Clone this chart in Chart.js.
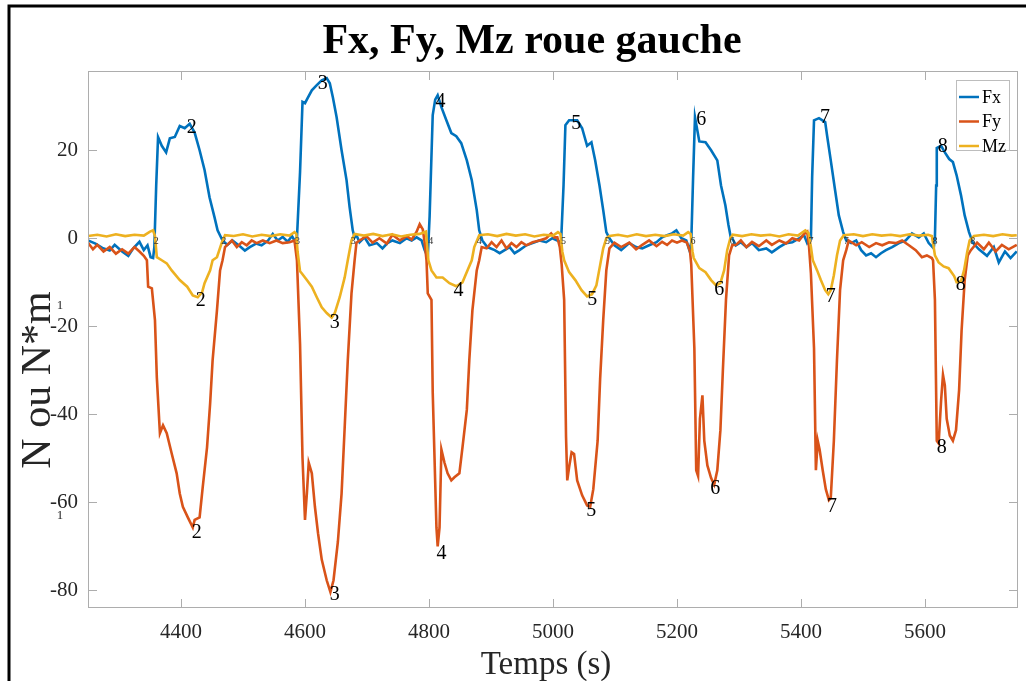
<!DOCTYPE html>
<html>
<head>
<meta charset="utf-8">
<script src="https://cdn.jsdelivr.net/npm/chart.js@4.4.1/dist/chart.umd.min.js"></script>
<style>
  body { margin: 0; background: #fff; }
  canvas { display: block; }
</style>
</head>
<body>
<canvas id="c" width="1026" height="681"></canvas>
<script>
// data (time in s, values in N or N*m)
const fxT = [4250,4262,4273,4285,4293,4305,4315,4323,4333,4340,4346,4351,4355,4357,4360,4363,4369,4376,4382,4390,4398,4406,4414,4422,4430,4438,4446,4454,4459,4467,4475,4483,4495,4503,4511,4521,4530,4540,4548,4556,4564,4572,4579,4583,4587,4592,4596,4600,4604,4611,4619,4627,4635,4640,4645,4651,4659,4667,4672,4677,4680,4683,4688,4696,4704,4716,4725,4733,4741,4753,4764,4772,4780,4788,4793,4798,4801,4806,4810,4814,4820,4828,4836,4844,4852,4861,4869,4877,4881,4885,4886,4894,4906,4914,4922,4930,4938,4946,4957,4967,4978,4989,4999,5007,5013,5017,5020,5026,5039,5047,5055,5062,5068,5075,5081,5086,5091,5099,5110,5123,5134,5144,5155,5167,5176,5184,5192,5199,5207,5215,5220,5223,5226,5229,5236,5246,5255,5265,5271,5278,5283,5287,5289,5295,5303,5312,5321,5332,5344,5353,5365,5376,5386,5397,5405,5410,5416,5418,5421,5429,5439,5442,5448,5455,5461,5468,5473,5481,5489,5497,5505,5513,5521,5529,5537,5547,5558,5569,5579,5590,5598,5606,5614,5616,5618,5619,5626,5632,5639,5645,5651,5658,5664,5671,5677,5687,5700,5711,5719,5729,5738,5748];
const fxV = [-0.5,-1.2,-2.2,-2.8,-1.5,-3.0,-4.0,-2.3,-0.8,-2.7,-1.6,-4.3,-4.5,-2,12,23,21,19.5,22.7,23,25.5,25,26,24,20,15.5,9.3,4.8,1.8,-0.5,-1.5,-0.5,-1.8,-2.8,-2.0,-1.2,-1.6,-0.6,1.0,-0.5,0.3,-0.8,0.5,-0.5,0,15,31,30.7,31.8,33.6,34.8,35.9,36.4,35.2,32,27.5,20,13.2,7,1.8,0.2,0.7,-0.9,0.2,-1.6,-1.1,-2.3,-1.1,-0.5,-1.1,0,-0.5,0.2,-0.5,-2.7,-4.3,5,28,31.5,32.5,29.8,26.8,23.9,23.2,21.6,17.7,13.2,6.4,1.8,0,-0.5,-2,-2.7,-3.4,-2.7,-2,-3.4,-2.7,-1.6,-1.1,-0.5,-0.9,0,-0.5,-1,12,25.7,26.8,26.8,25,21,21.8,17.7,12,6.4,1.4,0,-1.6,-2.7,-1.1,-2,-2.3,-1.6,-0.9,0.2,0.7,1.1,1.8,0,-0.5,-2.7,-1,14,27.5,22,21.8,20,17.7,12,7.5,3,0,0,-1.6,-0.9,-2,-1.1,-2.7,-2.3,-3.2,-2,-1.1,-0.9,0,0.7,-1.1,0,14,26.8,27.3,26.4,23.4,17.7,10.9,5.2,1.4,-0.5,-1.1,-0.5,-2.7,-3.9,-3.4,-4.3,-3.4,-2.7,-2,-1.1,-0.5,1.1,0.2,1.1,-1.1,-2.3,0,12,20.5,21,19.5,18,17.3,14.3,9.8,5.2,1.4,-1,-2.5,-4,-2,-5.5,-3,-4.5,-3];

const fyT = [4250,4258,4265,4275,4285,4295,4305,4315,4325,4333,4340,4345,4347,4353,4358,4361,4366,4371,4377,4385,4393,4398,4403,4411,4419,4422,4430,4435,4442,4447,4451,4458,4463,4467,4471,4474,4482,4490,4498,4506,4514,4522,4532,4543,4554,4564,4575,4583,4587,4592,4596,4600,4603,4606,4611,4616,4621,4627,4635,4641,4646,4653,4659,4664,4669,4675,4680,4683,4688,4699,4709,4720,4732,4741,4753,4764,4772,4780,4785,4790,4793,4796,4798,4804,4806,4812,4814,4817,4820,4825,4830,4836,4841,4849,4854,4861,4865,4870,4877,4881,4885,4893,4901,4909,4917,4925,4933,4941,4949,4957,4967,4978,4989,4997,5002,5007,5011,5014,5018,5021,5023,5026,5030,5034,5039,5047,5055,5060,5065,5072,5076,5081,5086,5091,5099,5110,5123,5134,5144,5155,5167,5176,5184,5192,5200,5208,5216,5221,5223,5228,5231,5234,5237,5241,5244,5249,5255,5260,5265,5270,5274,5279,5284,5289,5295,5303,5312,5321,5332,5344,5353,5365,5376,5386,5397,5405,5410,5413,5416,5421,5424,5427,5430,5435,5440,5445,5448,5453,5458,5463,5468,5473,5477,5489,5498,5510,5521,5531,5542,5553,5563,5574,5585,5595,5603,5611,5613,5616,5619,5622,5626,5629,5632,5635,5640,5645,5650,5655,5659,5664,5669,5674,5684,5695,5703,5714,5724,5735,5748];
const fyV = [-1,-2.5,-1.5,-3,-2,-3.5,-2.5,-3.5,-2,-3,-4,-5,-11,-11.4,-18.6,-31.6,-44.3,-42.5,-44.3,-48.9,-53.4,-58,-61,-63.4,-65.7,-64,-63.4,-56.6,-47.5,-37.5,-27.7,-16.4,-7.3,-5,-2,-1.6,-0.5,-2,-0.9,-1.6,-0.5,-1.1,-0.5,-1.1,-0.5,-1.1,-0.9,-0.5,-5,-24,-50,-64,-58,-51,-53.4,-61,-67,-73,-77.7,-80.4,-77.7,-69,-58,-43,-27.7,-12.5,-5,-1,-0.5,0.5,-1,0,-1.2,0.8,-0.5,0.5,-0.3,1.5,3.2,2,-1,-5,-12.5,-14,-35,-65.7,-70,-65.7,-48,-51,-53.4,-55,-54.3,-53.4,-47.5,-39,-27.7,-16.4,-7.3,-5,-2,-2.3,-0.9,-2,-0.5,-2.3,-1.1,-2,-0.9,-1.6,-0.9,-0.5,0,1.1,0.2,0.2,-2,-6,-14,-45,-55,-52,-48.6,-49,-55,-58.4,-60.7,-61,-57,-46,-32,-18.6,-7.3,-2.3,-1,-2,-1,-2.5,-1.5,-0.5,-1.8,-0.8,-1.5,-0.5,-1,-0.5,-1,-3,-6,-25,-52.7,-54,-41,-35.7,-46,-51.6,-54.5,-56,-52.7,-43.6,-30,-14,-3.9,-1.6,-1.5,-0.5,-2,-0.8,-1.8,-0.5,-1.5,-0.5,-1.2,0,-0.5,1,1.5,-2,-8,-25,-52.7,-46,-48,-52.7,-57,-59.5,-59,-46,-27.7,-11.8,-5,-2.7,-0.5,-1.6,-0.9,-2,-1.1,-1.6,-0.9,-1.1,-0.5,-1.6,-2.7,-4.3,-3.9,-4.5,-5,-14,-46,-46.6,-36.8,-31,-33.4,-41,-44.8,-46,-43.6,-34.5,-21,-9.5,-3.9,-2.7,-1,-2.5,-1,-3,-1.5,-2.5,-1.5];

const mzT = [4250,4265,4280,4295,4310,4325,4340,4350,4355,4358,4361,4369,4377,4385,4398,4410,4419,4427,4434,4438,4447,4451,4458,4466,4471,4485,4500,4515,4530,4545,4560,4575,4583,4586,4588,4592,4595,4603,4611,4619,4627,4635,4643,4648,4656,4664,4669,4675,4680,4695,4710,4725,4740,4755,4770,4785,4795,4799,4804,4812,4822,4833,4844,4854,4862,4869,4873,4881,4895,4910,4925,4940,4955,4970,4985,5000,5008,5012,5015,5018,5026,5036,5046,5055,5063,5070,5076,5081,5086,5091,5105,5120,5135,5150,5165,5180,5195,5210,5218,5222,5225,5227,5236,5246,5255,5263,5270,5276,5281,5286,5290,5305,5320,5335,5350,5365,5380,5395,5407,5412,5416,5419,5426,5432,5439,5444,5448,5453,5458,5463,5469,5485,5500,5515,5530,5545,5560,5575,5590,5605,5611,5614,5616,5622,5630,5638,5647,5651,5658,5663,5668,5672,5679,5695,5710,5725,5740,5748];
const mzV = [0.5,0.8,0.4,0.9,0.5,0.8,0.6,1.5,1.8,0.5,-4.3,-5,-5.7,-7.3,-9.5,-11,-13,-13.4,-12.3,-10.2,-7.3,-5,-4.3,-0.9,0.7,0.5,0.9,0.4,0.8,0.5,0.9,0.6,1.4,1.0,-3,-7.5,-8,-9.5,-11,-13.4,-15.7,-17,-18,-17,-13.4,-8.9,-5,-0.5,1,0.6,1.0,0.5,0.9,0.4,0.8,1.0,1.5,-5,-7.3,-8.9,-8.9,-10.2,-10.9,-10,-7.3,-5,-2,0.7,0.9,0.5,1.0,0.6,0.9,0.4,0.8,0.6,1.4,1.0,-3,-5,-7.7,-9.5,-11.8,-13.2,-12.7,-10.7,-6.1,-2.3,0,0.5,0.8,0.4,0.9,0.5,0.8,0.5,0.9,0.6,1.4,1.0,-3,-4.5,-6.8,-7.7,-9.5,-10.7,-10.2,-7.3,-2.7,0,0.8,0.5,0.9,0.6,0.8,0.4,0.9,0.6,1.8,1.2,-2,-5,-7.3,-9.5,-11.8,-12.7,-11.8,-8.4,-3.9,-0.5,0.7,0.9,0.5,0.9,0.6,0.8,0.5,0.9,0.6,0.8,0.5,-2,-3.9,-5.5,-6.4,-6.8,-8.6,-10,-9.8,-7.3,-3.2,-0.5,0.5,0.8,0.5,0.9,0.6,0.7];

const seriesNames = ['Fx', 'Fy', 'Mz'];
const seriesColors = ['#0072BD', '#D95319', '#EDB120'];

const xTicks = [4400, 4600, 4800, 5000, 5200, 5400, 5600];
const yTicks = [-80, -60, -40, -20, 0, 20];

// cycle numbers written on the curves
const peakT = [4417.5,4628.5,4818.6,5037.6,5239,5438.7,5628.8, 4432,4647.8,4847.6,5063.4,5268,5448,5657.8, 4425.6,4647.8,4820,5061.8,5261.5,5450,5627];
const peakV = [25.2,35.2,31.1,26.1,27,27.3,20.9, -14.3,-19.1,-12,-13.9,-11.6,-13.2,-10.5, -67,-81.1,-71.6,-61.8,-56.8,-60.9,-47.5];
const peakText = ['2','3','4','5','6','7','8','2','3','4','5','6','7','8','2','3','4','5','6','7','8'];
const markT = [4360,4469,4588,4678,4803,4881,5017,5088,5226,5289,5416,5473,5616,5677];
const markV = [-0.7,-0.7,-0.7,-0.7,-0.7,-0.7,-0.7,-0.7,-0.7,-0.7,-0.7,-0.7,-0.7,-0.7];
const markText = ['2','2','3','3','4','4','5','5','6','6','7','7','8','8'];

const serif = '"Liberation Serif", "Times New Roman", serif';
const toPoints = (t, v) => t.map((x, i) => ({ x, y: v[i] }));

const decor = {
  id: 'decor',
  beforeDraw(chart) {
    const ctx = chart.ctx;
    ctx.save();
    ctx.fillStyle = '#fff';
    ctx.fillRect(0, 0, chart.width, chart.height);
    ctx.restore();
  },
  afterDatasetsDraw(chart) {
    const { ctx, scales: { x, y } } = chart;
    ctx.save();
    ctx.fillStyle = '#000';
    ctx.textAlign = 'center';
    ctx.textBaseline = 'middle';
    ctx.font = '20px ' + serif;
    peakT.forEach((t, i) => ctx.fillText(peakText[i], x.getPixelForValue(t), y.getPixelForValue(peakV[i])));
    ctx.fillStyle = '#333';
    ctx.font = '10px ' + serif;
    markT.forEach((t, i) => ctx.fillText(markText[i], x.getPixelForValue(t), y.getPixelForValue(markV[i])));
    ctx.restore();
  },
  afterDraw(chart) {
    const { ctx, chartArea: a, scales: { x, y } } = chart;
    ctx.save();
    // axes box with inward ticks
    ctx.strokeStyle = '#adadad';
    ctx.lineWidth = 1;
    ctx.strokeRect(a.left + 0.5, a.top + 0.5, a.right - a.left - 1, a.bottom - a.top - 1);
    ctx.beginPath();
    xTicks.forEach(v => {
      const px = Math.round(x.getPixelForValue(v)) + 0.5;
      ctx.moveTo(px, a.bottom); ctx.lineTo(px, a.bottom - 9);
      ctx.moveTo(px, a.top); ctx.lineTo(px, a.top + 9);
    });
    yTicks.forEach(v => {
      const py = Math.round(y.getPixelForValue(v)) + 0.5;
      ctx.moveTo(a.left, py); ctx.lineTo(a.left + 9, py);
      ctx.moveTo(a.right, py); ctx.lineTo(a.right - 9, py);
    });
    ctx.stroke();

    // legend
    const lx = 956, ly = 80, lw = 53, lh = 70;
    ctx.fillStyle = '#fff';
    ctx.fillRect(lx, ly, lw, lh);
    ctx.strokeStyle = '#bdbdbd';
    ctx.strokeRect(lx + 0.5, ly + 0.5, lw, lh);
    ctx.font = '18px ' + serif;
    ctx.textAlign = 'left';
    ctx.textBaseline = 'middle';
    seriesNames.forEach((name, i) => {
      const yy = ly + 17 + i * 24.5;
      ctx.strokeStyle = seriesColors[i];
      ctx.lineWidth = 2.5;
      ctx.beginPath();
      ctx.moveTo(lx + 3, yy); ctx.lineTo(lx + 23, yy);
      ctx.stroke();
      ctx.fillStyle = '#000';
      ctx.fillText(name, lx + 26, yy + 1);
    });

    // title and axis titles
    ctx.fillStyle = '#000';
    ctx.textAlign = 'center';
    ctx.textBaseline = 'alphabetic';
    ctx.font = 'bold 42px ' + serif;
    ctx.fillText('Fx, Fy, Mz roue gauche', 532, 53);
    ctx.fillStyle = '#262626';
    ctx.font = '33px ' + serif;
    ctx.fillText('Temps (s)', 546, 674);
    ctx.save();
    ctx.translate(50, 380);
    ctx.rotate(-Math.PI / 2);
    ctx.font = '42px ' + serif;
    ctx.fillText('N ou N*m', 0, 0);
    ctx.restore();
    ctx.font = '13px ' + serif;
    ctx.fillText('1', 60, 309);
    ctx.fillText('1', 60, 519);

    // black frame
    ctx.strokeStyle = '#000';
    ctx.lineWidth = 3;
    ctx.beginPath();
    ctx.moveTo(9, 681); ctx.lineTo(9, 6); ctx.lineTo(1026, 6);
    ctx.stroke();
    ctx.restore();
  }
};

const sets = [toPoints(fxT, fxV), toPoints(fyT, fyV), toPoints(mzT, mzV)];

new Chart(document.getElementById('c'), {
  type: 'line',
  data: {
    datasets: sets.map((d, i) => ({
      label: seriesNames[i],
      data: d,
      borderColor: seriesColors[i],
      backgroundColor: seriesColors[i],
      borderWidth: 2.6,
      pointRadius: 0,
      tension: 0,
      order: 3 - i
    }))
  },
  options: {
    responsive: false,
    devicePixelRatio: 1,
    animation: false,
    events: [],
    layout: { padding: { top: 71, right: 8, left: 0, bottom: 0 } },
    plugins: { legend: { display: false }, tooltip: { enabled: false }, title: { display: false } },
    scales: {
      x: {
        type: 'linear',
        min: 4250,
        max: 5750,
        afterBuildTicks: (s) => { s.ticks = xTicks.map(v => ({ value: v })); },
        afterFit: (s) => { s.height = 73; },
        grid: { display: false, drawTicks: false },
        border: { display: false },
        ticks: { color: '#262626', font: { family: serif, size: 21 }, padding: 12, maxRotation: 0, callback: (v) => String(v) }
      },
      y: {
        type: 'linear',
        min: -84,
        max: 38,
        afterBuildTicks: (s) => { s.ticks = yTicks.map(v => ({ value: v })); },
        afterFit: (s) => { s.width = 88; },
        grid: { display: false, drawTicks: false },
        border: { display: false },
        ticks: { color: '#262626', font: { family: serif, size: 21 }, padding: 10, callback: (v) => String(v) }
      }
    }
  },
  plugins: [decor]
});
</script>
</body>
</html>
